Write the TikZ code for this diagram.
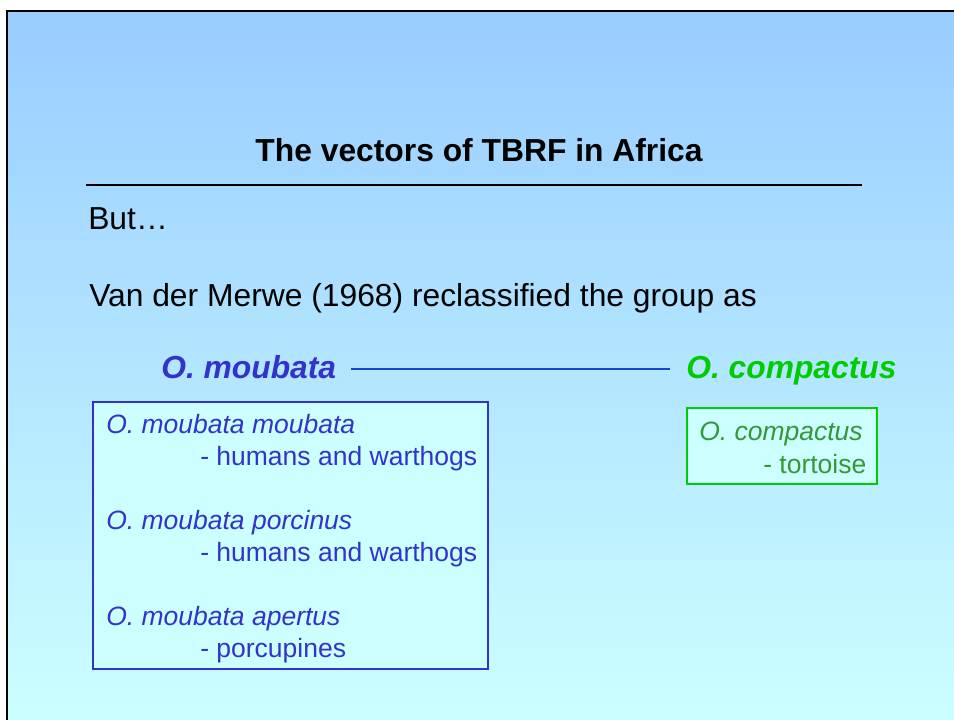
\documentclass[tikz,border=0pt]{standalone}
\usepackage{fontspec}
\setmainfont{Liberation Sans}
\definecolor{bgtop}{RGB}{153,204,255}
\definecolor{bgbot}{RGB}{204,255,255}
\definecolor{mblue}{RGB}{51,51,204}
\definecolor{lineblue}{RGB}{20,70,210}
\definecolor{cgreen}{RGB}{0,204,0}
\definecolor{dgreen}{RGB}{51,153,51}
\definecolor{boxfill}{RGB}{204,255,255}
\usetikzlibrary{fit}

\begin{document}
\begin{tikzpicture}[x=0.7547pt, y=-0.7547pt,
      txt/.style={anchor=base west, inner sep=0pt, font=\fontsize{24}{28}\selectfont},
      head/.style={anchor=base west, inner sep=0pt, text height=13.6pt, text depth=0pt,
                   font=\fontsize{24}{28}\selectfont\bfseries\itshape},
      sub/.style={anchor=base west, inner sep=0pt, font=\fontsize{20}{24}\selectfont},
      frame/.style={draw, fill=boxfill, inner sep=0pt, line width=0.9pt},
      link/.style={draw=lineblue, line width=1.2pt, shorten <=11pt, shorten >=12pt}
    ]
      \useasboundingbox (0,0) rectangle (954,720);
      \fill[white] (0,0) rectangle (954,720);
      \shade[top color=bgtop, bottom color=bgbot] (7,11) rectangle (954,720);
      \draw[line width=1.9pt] (7,720) -- (7,11) -- (954,11);

      \node[anchor=base, inner sep=0pt, font=\fontsize{24}{28}\selectfont\bfseries] (title) at (479,162) {The vectors of TBRF in Africa};
      \draw[line width=0.8pt] (86,185) -- (862,185);

      \node[txt] (but) at (88,230) {But…};
      \node[txt] (merwe) at (89,307) {Van der Merwe (1968) reclassified the group as};

      \node[head, text=mblue] (moub) at (161,378) {O. moubata};
      \node[head, text=cgreen] (comp) at (686,378) {O. compactus};
      \draw[link] (moub.east) -- (comp.west);

      \coordinate (mtl) at (93,402);
      \coordinate (mbr) at (488,669);
      \node[frame, draw=mblue, fit=(mtl)(mbr)] (mbox) {};
      \coordinate (ctl) at (687,408);
      \coordinate (cbr) at (877,484);
      \node[frame, draw=cgreen, fit=(ctl)(cbr)] (cbox) {};

      \node[sub, text=mblue, font=\fontsize{20}{24}\selectfont\itshape] (mm) at (106,433) {O. moubata moubata};
      \node[sub, text=mblue] (mmh) at (200,465) {- humans and warthogs};
      \node[sub, text=mblue, font=\fontsize{20}{24}\selectfont\itshape] (mp) at (106,529) {O. moubata porcinus};
      \node[sub, text=mblue] (mph) at (200,561) {- humans and warthogs};
      \node[sub, text=mblue, font=\fontsize{20}{24}\selectfont\itshape] (ma) at (106,625) {O. moubata apertus};
      \node[sub, text=mblue] (mah) at (200,657) {- porcupines};

      \node[sub, text=dgreen, font=\fontsize{20}{24}\selectfont\itshape] (cc) at (699,440) {O. compactus};
      \node[sub, text=dgreen] (cch) at (763,473) {- tortoise};
    \end{tikzpicture}
\end{document}
